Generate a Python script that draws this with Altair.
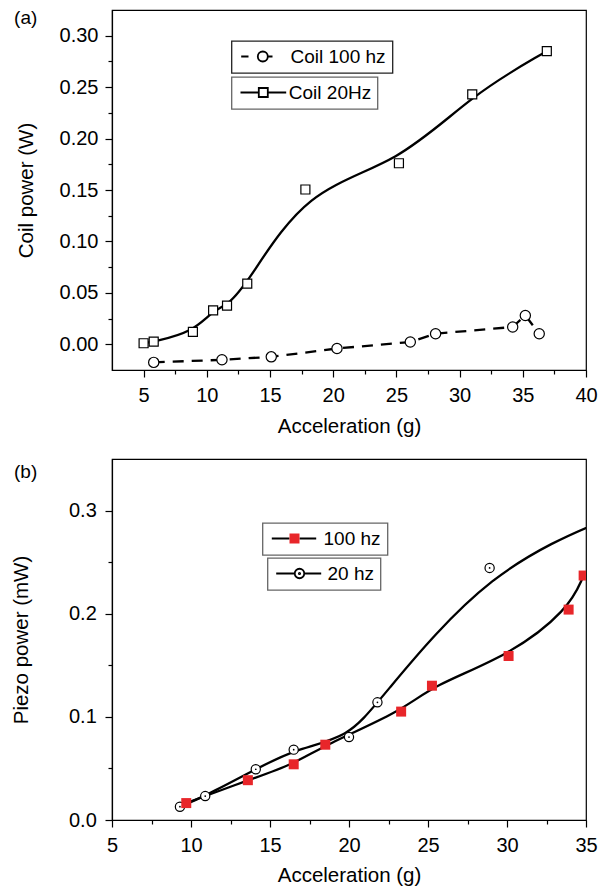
import altair as alt
import pandas as pd

FONT = "Liberation Sans"

# ---------------- Panel (a): coil power ----------------
coil20_x = [5.0, 5.8, 8.9, 10.5, 11.6, 13.2, 17.8, 25.2, 31.0, 36.9]
coil20_y = [0.001, 0.0025, 0.012, 0.033, 0.0375, 0.059, 0.1505, 0.176, 0.243, 0.285]
coil100_x = [5.8, 11.2, 15.1, 20.3, 26.1, 28.1, 34.2, 35.2, 36.3]
coil100_y = [-0.0176, -0.0151, -0.0122, -0.0041, 0.0022, 0.0103, 0.0168, 0.0280, 0.0102]

# ---------------- Panel (b): piezo power ----------------
piezo100_x = [9.7, 13.6, 16.5, 18.5, 23.3, 25.25, 30.1, 33.9, 34.85]
piezo100_y = [0.0164, 0.0386, 0.054, 0.073, 0.1051, 0.1302, 0.159, 0.204, 0.237]
piezo20_x = [9.3, 10.9, 14.1, 16.5, 20.0, 21.8, 28.9, 37.0]
piezo20_y = [0.0129, 0.0232, 0.0492, 0.0682, 0.0804, 0.1141, 0.2444, 0.296]

# tick values
a_x_major = [5, 10, 15, 20, 25, 30, 35, 40]
a_x_minor = [7.5, 12.5, 17.5, 22.5, 27.5, 32.5, 37.5]
a_y_major = [0.0, 0.05, 0.10, 0.15, 0.20, 0.25, 0.30]
a_y_minor = [0.025, 0.075, 0.125, 0.175, 0.225, 0.275]
b_x_major = [5, 10, 15, 20, 25, 30, 35]
b_x_minor = [7.5, 12.5, 17.5, 22.5, 27.5, 32.5]
b_y_major = [0.0, 0.1, 0.2, 0.3]
b_y_minor = [0.05, 0.15, 0.25]

df_a20 = pd.DataFrame({"x": coil20_x, "y": coil20_y, "series": "Coil 20Hz"})
df_a100 = pd.DataFrame({"x": coil100_x, "y": coil100_y, "series": "Coil 100 hz"})
df_b100 = pd.DataFrame({"x": piezo100_x, "y": piezo100_y, "series": "100 hz"})
df_b20 = pd.DataFrame({"x": piezo20_x, "y": piezo20_y, "series": "20 hz"})


def major_axis(values, title, fmt, label_padding, title_padding):
    return alt.Axis(values=values, title=title, format=fmt, ticks=True, tickSize=7,
                    tickColor="black", tickWidth=1.2, tickOpacity=1,
                    labelPadding=label_padding, titlePadding=title_padding,
                    labelFlush=False, labelOverlap=False, grid=False)


def minor_axis(values, orient):
    return alt.Axis(values=values, title=None, labels=False, domain=False, ticks=True,
                    tickSize=4, tickColor="black", tickWidth=1.2, tickOpacity=1,
                    grid=False, orient=orient)


def legend(x, y, path, lab_off, stroke="#222", label_opacity=1, sw=1.8):
    kw = dict(
        title=None, orient="none", legendX=x, legendY=y,
        symbolType=path, symbolSize=100, symbolOffset=0,
        symbolStrokeWidth=sw, labelOffset=lab_off, padding=6,
        labelFont=FONT, labelFontSize=19, labelColor="black",
        labelOpacity=label_opacity, direction="vertical",
    )
    if stroke is not None:
        kw["strokeColor"] = stroke
    return alt.Legend(**kw)


def minor_layers(sx, sy, xvals, yvals):
    mx = alt.Chart(pd.DataFrame({"x": xvals})).mark_point(opacity=0).encode(
        x=alt.X("x:Q", scale=sx, axis=minor_axis(xvals, "bottom")))
    my = alt.Chart(pd.DataFrame({"y": yvals})).mark_point(opacity=0).encode(
        y=alt.Y("y:Q", scale=sy, axis=minor_axis(yvals, "left")))
    return mx, my


def circ(cx, r):
    k = 0.5523 * r
    return (f"M{cx + r},0C{cx + r},{k},{cx + k},{r},{cx},{r}"
            f"C{cx - k},{r},{cx - r},{k},{cx - r},0"
            f"C{cx - r},{-k},{cx - k},{-r},{cx},{-r}"
            f"C{cx + k},{-r},{cx + r},{-k},{cx + r},0Z")


# ---- (a)
sxa = alt.Scale(domain=[2.5, 40], nice=False, zero=False)
sya = alt.Scale(domain=[-0.025, 0.325], nice=False, zero=False)
xa = alt.X("x:Q", scale=sxa, axis=major_axis(a_x_major, "Acceleration (g)", "d", 8, 11))
ya = alt.Y("y:Q", scale=sya, axis=major_axis(a_y_major, "Coil power (W)", ".2f", 7, 23))

path_a100 = "M-1.16,0L0.3,0" + circ(3.16, 1.0) + "M4.16,0L5.1,0"
path_a20 = "M-1.3,0L2.36,0M2.36,-0.9L4.16,-0.9L4.16,0.9L2.36,0.9ZM4.16,0L7.84,0"

line_a20 = alt.Chart(df_a20).mark_line(
    interpolate="basis", color="black", strokeWidth=2.3).encode(x=xa, y=ya)
pts_a20 = alt.Chart(df_a20).mark_point(
    shape="square", size=81, filled=True, fill="white", strokeWidth=1.2, opacity=1
).encode(
    x=xa, y=ya,
    stroke=alt.Stroke("series:N", scale=alt.Scale(domain=["Coil 20Hz"], range=["black"]),
                      legend=legend(119.5, 67, path_a20, 32.3, stroke="#666")),
)
line_a100 = alt.Chart(df_a100).mark_line(
    color="black", strokeWidth=2.3, strokeDash=[11, 8]).encode(x=xa, y=ya)
pts_a100 = alt.Chart(df_a100).mark_point(
    shape="circle", size=105, filled=True, fill="white", strokeWidth=1.2, opacity=1
).encode(
    x=xa, y=ya,
    stroke=alt.Stroke("series:N", scale=alt.Scale(domain=["Coil 100 hz"], range=["black"]),
                      legend=legend(119.5, 31, path_a100, 34, stroke="#222")),
)

data_a = alt.layer(line_a20, line_a100, pts_a20, pts_a100).resolve_scale(
    stroke="independent").resolve_legend(stroke="independent")
mxa, mya = minor_layers(sxa, sya, a_x_minor, a_y_minor)

chart_a = alt.layer(data_a, mxa, mya).resolve_scale(
    x="independent", y="independent").properties(
    width=474, height=360,
    title=alt.TitleParams("(a)", anchor="start", frame="bounds", offset=-18, dx=-2,
                          font=FONT, fontSize=19, fontWeight="normal", color="black"),
)

# ---- (b)
sxb = alt.Scale(domain=[5, 35], nice=False, zero=False)
syb = alt.Scale(domain=[0, 0.35], nice=False, zero=False)
xb = alt.X("x:Q", scale=sxb, axis=major_axis(b_x_major, "Acceleration (g)", "d", 8, 10))
yb = alt.Y("y:Q", scale=syb, axis=major_axis(b_y_major, "Piezo power (mW)", ".1f", 8.7, 37))

path_b100_lines = "M-1.24,0L2.3,0M4.3,0L7.64,0"
path_b100_square = "M2.3,-1L4.3,-1L4.3,1L2.3,1Z"
path_b20 = ("M-1.36,0L2.35,0" + circ(3.3, 0.95) + "M4.25,0L7.64,0" + circ(3.3, 0.13))

line_b100 = alt.Chart(df_b100).mark_line(
    interpolate="basis", strokeWidth=2.3, clip=True
).encode(
    x=xb, y=yb,
    stroke=alt.Stroke("series:N", scale=alt.Scale(domain=["100 hz"], range=["black"]),
                      legend=legend(150.5, 64, path_b100_lines, 36, stroke="#666")),
)
line_b20 = alt.Chart(df_b20).mark_line(
    interpolate="basis", color="black", strokeWidth=2.3, clip=True).encode(x=xb, y=yb)
pts_b20 = alt.Chart(df_b20).mark_point(
    shape="circle", size=85, filled=True, fill="white", strokeWidth=1.2, opacity=1, clip=True
).encode(
    x=xb, y=yb,
    stroke=alt.Stroke("series:N", scale=alt.Scale(domain=["20 hz"], range=["black"]),
                      legend=legend(155.5, 99, path_b20, 35, stroke="#666")),
)
dots_b20 = alt.Chart(df_b20).mark_circle(
    size=3, color="black", opacity=1, clip=True).encode(x=xb, y=yb)
sq_b100 = alt.Chart(df_b100).mark_square(
    size=100, opacity=1, clip=True
).encode(
    x=xb, y=yb,
    fill=alt.Fill("series:N", scale=alt.Scale(domain=["100 hz"], range=["#e8262a"]),
                  legend=legend(150.5, 64, path_b100_square, 36, stroke=None,
                                label_opacity=0, sw=0)),
)

data_b = alt.layer(line_b100, line_b20, pts_b20, dots_b20, sq_b100).resolve_scale(
    stroke="independent", fill="independent").resolve_legend(
    stroke="independent", fill="independent")
mxb, myb = minor_layers(sxb, syb, b_x_minor, b_y_minor)

chart_b = alt.layer(data_b, mxb, myb).resolve_scale(
    x="independent", y="independent").properties(
    width=474, height=361,
    title=alt.TitleParams("(b)", anchor="start", frame="bounds", offset=-23, dx=2.5,
                          font=FONT, fontSize=19, fontWeight="normal", color="black"),
)

chart = alt.vconcat(chart_a, chart_b, spacing=20).resolve_scale(
    stroke="independent", fill="independent").resolve_legend(
    stroke="independent", fill="independent").properties(
    padding={"left": 2, "top": 0, "right": 0, "bottom": 0}
).configure_view(stroke="black", strokeWidth=1.2).configure_axis(
    labelFont=FONT, labelFontSize=20, labelColor="black",
    titleFont=FONT, titleFontSize=20.5, titleFontWeight="normal", titleColor="black",
    domainColor="black", domainWidth=1.2,
).configure_legend(strokeWidth=1.3)

chart.save("out.html", embed_options={"renderer": "svg", "actions": False})
